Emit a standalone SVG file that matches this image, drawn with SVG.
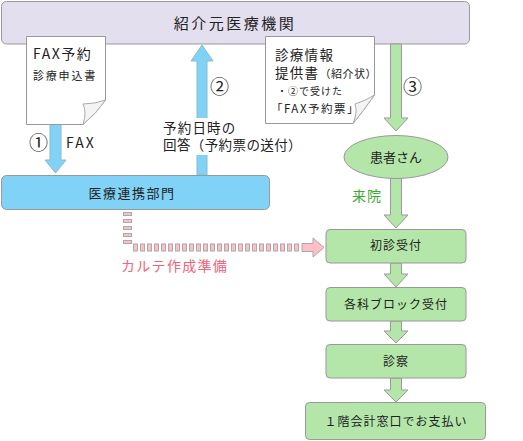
<svg xmlns="http://www.w3.org/2000/svg" width="523" height="441" viewBox="0 0 523 441">
<style>
text{font-family:"Noto Sans CJK JP","Noto Sans",sans-serif;fill:#222}
.box{stroke:#999;stroke-width:1}
.g{fill:#b4e6aa;stroke:#9a9a9a;stroke-width:1}
.b{fill:#80d3f6;stroke:#8cb8cc;stroke-width:1}
.doc{fill:#fff;stroke:#999;stroke-width:1}
.flap{fill:#f4f4f4;stroke:#aaa;stroke-width:1}
.c{text-anchor:middle}
.n{font-size:19px}
</style>
<rect width="523" height="441" fill="#fff"/>

<g id="top">
<rect class="box" x="1.5" y="1.5" width="468" height="42.5" rx="5" fill="#e3dfee"/>
<text class="c" x="235" y="29" font-size="15" letter-spacing="2.5">紹介元医療機関</text>
</g>

<g id="connectors">
<polygon class="b" points="50,124 61,124 61,160 66,160 55.5,173 45,160 50,160"/>
<polygon class="b" points="197,175 207,175 207,61 213,61 202,45 191,61 197,61"/>
<rect x="160" y="118" width="142" height="37" fill="#fff"/>
<polygon class="g" points="390.5,44 401.5,44 401.5,118 408,118 396,131 384,118 390.5,118"/>
<polygon class="g" points="390.5,178 401.5,178 401.5,215 408,215 396,228 384,215 390.5,215"/>
<polygon class="g" points="390.5,263 401.5,263 401.5,274 408,274 396,287 384,274 390.5,274"/>
<polygon class="g" points="390.5,321 401.5,321 401.5,331 408,331 396,343 384,331 390.5,331"/>
<polygon class="g" points="390.5,378 401.5,378 401.5,390 408,390 396,402 384,390 390.5,390"/>
<line x1="127.5" y1="212" x2="127.5" y2="247" stroke="#a9a9a9" stroke-width="9" stroke-dasharray="4 3"/>
<line x1="127.5" y1="213" x2="127.5" y2="247" stroke="#ffbfc6" stroke-width="7" stroke-dasharray="2 5"/>
<line x1="133" y1="247.5" x2="299" y2="247.5" stroke="#a9a9a9" stroke-width="8" stroke-dasharray="5 2"/>
<line x1="134" y1="247.5" x2="299" y2="247.5" stroke="#ffbfc6" stroke-width="6" stroke-dasharray="3 4"/>
<polygon points="302,243.5 313,243.5 313,238 324,247.5 313,257 313,251.5 302,251.5" fill="#ffbfc6" stroke="#a9a9a9" stroke-width="1"/>
</g>

<g id="doc1">
<path class="doc" d="M26.5,36.5 H105.5 V100 Q96,114 83,124.5 H26.5 Z"/>
<path class="flap" d="M83,124.5 Q87,112 83,104 Q95,104 105.5,100 Q96,114 83,124.5 Z"/>
<text x="33" y="59" font-size="14" letter-spacing="1.5">FAX予約</text>
<text x="33" y="80" font-size="11" letter-spacing="1.8">診療申込書</text>
</g>

<g id="doc2">
<path class="doc" d="M265.5,36.5 H374.5 V95 Q364,110 353,123.5 H265.5 Z"/>
<path class="flap" d="M353,123.5 Q358,112 355,104 Q365,101 374.5,95 Q364,110 353,123.5 Z"/>
<text x="275" y="60" font-size="13.5" letter-spacing="1.3">診療情報</text>
<text x="275" y="78" font-size="13.5" letter-spacing="1.3">提供書<tspan font-size="11" letter-spacing="0.5">（紹介状）</tspan></text>
<text x="277" y="95" font-size="10" letter-spacing="1">・②で受けた</text>
<text x="271" y="113" font-size="11.5" letter-spacing="1.5">「FAX予約票」</text>
</g>

<g id="labels">
<text class="n" x="29" y="150">①</text>
<text x="66" y="148" font-size="14" letter-spacing="2">FAX</text>
<text class="n" x="210" y="94">②</text>
<text x="163" y="133" font-size="13.5" letter-spacing="1.2">予約日時の</text>
<text x="163" y="150" font-size="13.5" letter-spacing="0.4">回答（予約票の送付）</text>
<text class="n" x="403" y="94">③</text>
<text x="352" y="201" font-size="14" style="fill:#3bab2f" letter-spacing="1">来院</text>
<text x="121" y="271" font-size="14" style="fill:#f2627c" letter-spacing="1.3">カルテ作成準備</text>
</g>

<g id="renkei">
<rect class="box" x="1.5" y="175.5" width="268" height="34" rx="5" fill="#80d3f6"/>
<text class="c" x="132" y="198" font-size="13" letter-spacing="1.5">医療連携部門</text>
</g>

<g id="kanja">
<ellipse class="box" cx="396" cy="157" rx="52" ry="21.5" fill="#b4e6aa"/>
<text class="c" x="396" y="162" font-size="13">患者さん</text>
</g>

<g id="shoshin">
<rect class="box" x="326" y="229.5" width="140" height="33.5" rx="4" fill="#b4e6aa"/>
<text class="c" x="396" y="250" font-size="12" letter-spacing="1">初診受付</text>
</g>

<g id="block">
<rect class="box" x="326" y="287.5" width="140" height="33.5" rx="4" fill="#b4e6aa"/>
<text class="c" x="396" y="309" font-size="12" letter-spacing="1">各科ブロック受付</text>
</g>

<g id="shinsatsu">
<rect class="box" x="326" y="344.5" width="140" height="33.5" rx="4" fill="#b4e6aa"/>
<text class="c" x="396" y="366" font-size="12" letter-spacing="1">診察</text>
</g>

<g id="kaikei">
<rect class="box" x="305.5" y="402.5" width="180" height="37" rx="4" fill="#b4e6aa"/>
<text class="c" x="396" y="426" font-size="12" letter-spacing="1">１階会計窓口でお支払い</text>
</g>
</svg>
